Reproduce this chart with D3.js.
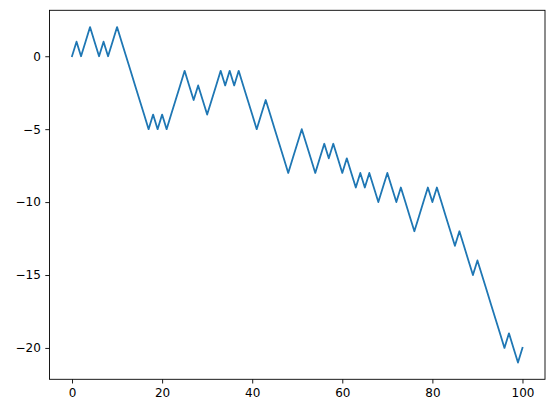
<!DOCTYPE html>
<html>
<head>
<meta charset="utf-8">
<script src="https://cdn.jsdelivr.net/npm/d3@7"></script>
<style>
  body { margin: 0; background: #fff; }
  svg { display: block; }
  .tick text { font-family: "DejaVu Sans", sans-serif; font-size: 12px; fill: #000; }
  .tick line, .domain { stroke: #000; }
</style>
</head>
<body>
<svg id="chart" width="554" height="413"></svg>
<script>
// random walk, one value per step
var steps = d3.range(0, 101);
var walk = [
   0,   1,   0,   1,   2,   1,   0,   1,   0,   1,
   2,   1,   0,  -1,  -2,  -3,  -4,  -5,  -4,  -5,
  -4,  -5,  -4,  -3,  -2,  -1,  -2,  -3,  -2,  -3,
  -4,  -3,  -2,  -1,  -2,  -1,  -2,  -1,  -2,  -3,
  -4,  -5,  -4,  -3,  -4,  -5,  -6,  -7,  -8,  -7,
  -6,  -5,  -6,  -7,  -8,  -7,  -6,  -7,  -6,  -7,
  -8,  -7,  -8,  -9,  -8,  -9,  -8,  -9, -10,  -9,
  -8,  -9, -10,  -9, -10, -11, -12, -11, -10,  -9,
 -10,  -9, -10, -11, -12, -13, -12, -13, -14, -15,
 -14, -15, -16, -17, -18, -19, -20, -19, -20, -21,
 -20
];
var xTicks = [0, 20, 40, 60, 80, 100];
var yTicks = [0, -5, -10, -15, -20];

//-------------------------------------------------------------------------------

var box = { left: 49.5, right: 545, top: 10.3, bottom: 379.3 };
var svg = d3.select('#chart');

// matplotlib style 5% margins round the data
var xExt = d3.extent(steps), yExt = d3.extent(walk);
var xPad = (xExt[1] - xExt[0]) * 0.05, yPad = (yExt[1] - yExt[0]) * 0.05;

var x = d3.scaleLinear()
    .domain([xExt[0] - xPad, xExt[1] + xPad])
    .range([box.left, box.right]);

var y = d3.scaleLinear()
    .domain([yExt[0] - yPad, yExt[1] + yPad])
    .range([box.bottom, box.top]);

var fmt = function(v) { return String(v).replace('-', '\u2212'); };

svg.append('g')
    .attr('transform', `translate(0,${box.bottom})`)
    .call(d3.axisBottom(x).tickValues(xTicks).tickFormat(fmt).tickSize(4.2).tickPadding(4.5).tickSizeOuter(0))
    .call(g => g.select('.domain').remove());

svg.append('g')
    .attr('transform', `translate(${box.left},0)`)
    .call(d3.axisLeft(y).tickValues(yTicks).tickFormat(fmt).tickSize(4.2).tickPadding(4.5).tickSizeOuter(0))
    .call(g => g.select('.domain').remove());

svg.selectAll('.tick line').attr('stroke-width', 0.9);

// the walk itself, clipped to the axes box
svg.append('clipPath').attr('id', 'clip')
    .append('rect')
    .attr('x', box.left).attr('y', box.top)
    .attr('width', box.right - box.left).attr('height', box.bottom - box.top);

var line = d3.line()
    .x((d, i) => x(steps[i]))
    .y(d => y(d));

svg.append('path')
    .datum(walk)
    .attr('clip-path', 'url(#clip)')
    .attr('fill', 'none')
    .attr('stroke', '#1f77b4')
    .attr('stroke-width', 1.8)
    .attr('stroke-linejoin', 'round')
    .attr('stroke-linecap', 'square')
    .attr('d', line);

// frame (spines)
svg.append('rect')
    .attr('x', box.left).attr('y', box.top)
    .attr('width', box.right - box.left).attr('height', box.bottom - box.top)
    .attr('fill', 'none')
    .attr('stroke', '#000')
    .attr('stroke-width', 0.9);
</script>
</body>
</html>
